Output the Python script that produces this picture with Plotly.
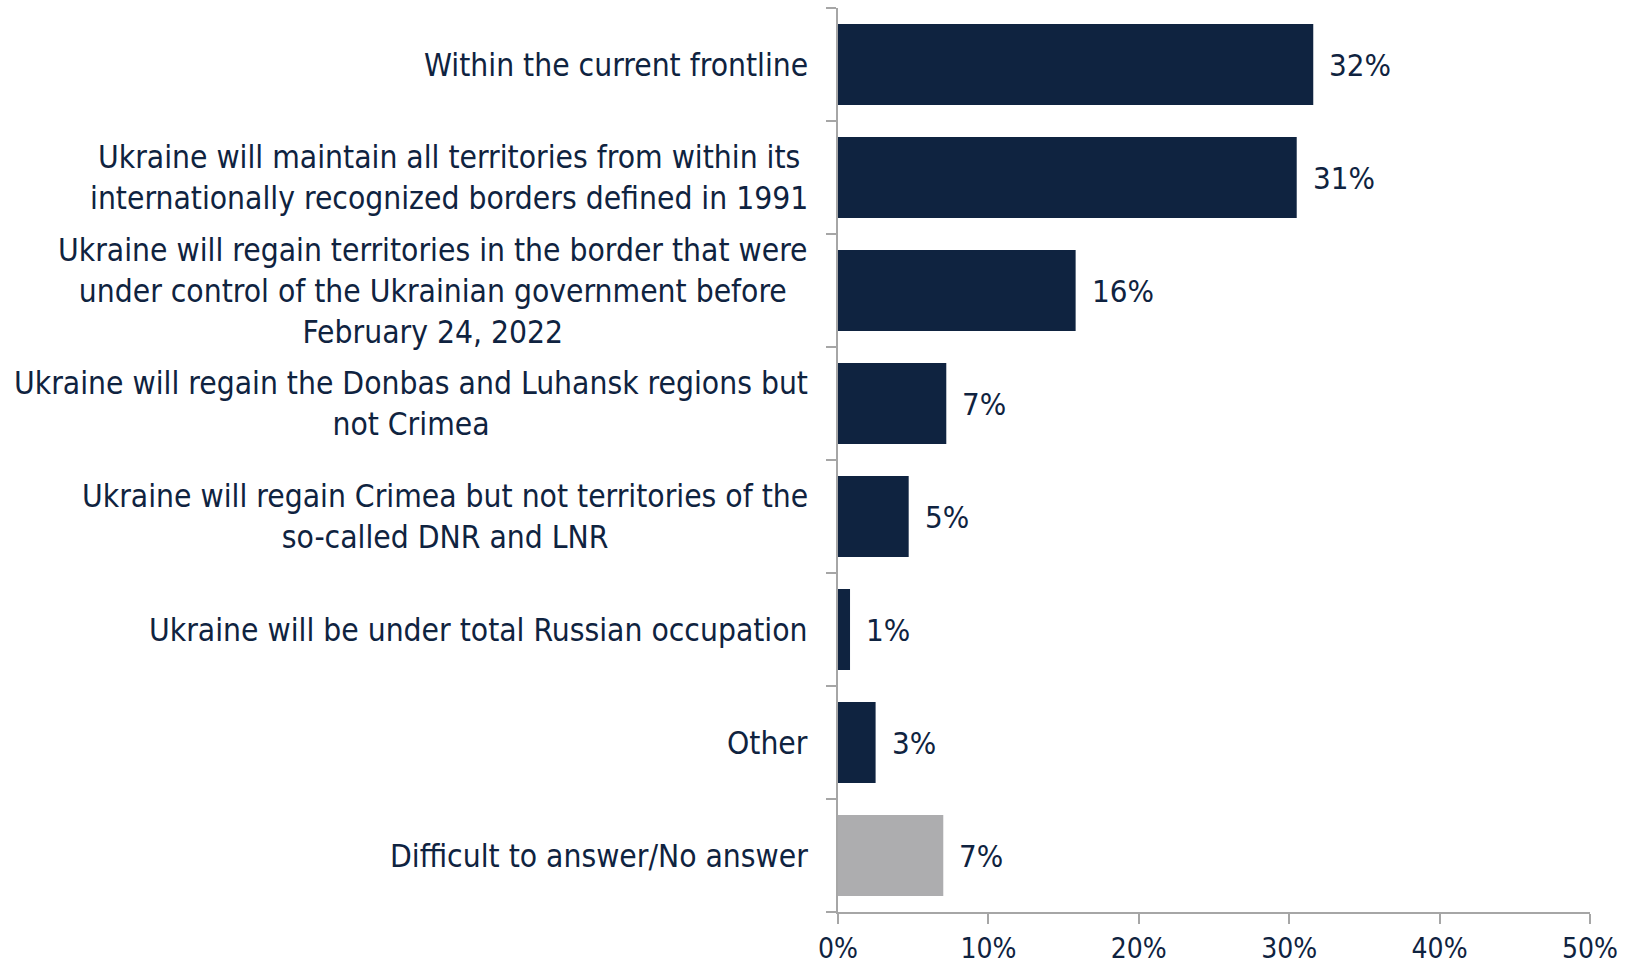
import plotly.graph_objects as go

categories = [
    "Within the current frontline",
    "Ukraine will maintain all territories from within its<br>internationally recognized borders defined in 1991",
    "Ukraine will regain territories in the border that were<br>under control of the Ukrainian government before<br>February 24, 2022",
    "Ukraine will regain the Donbas and Luhansk regions but<br>not Crimea",
    "Ukraine will regain Crimea but not territories of the<br>so-called DNR and LNR",
    "Ukraine will be under total Russian occupation",
    "Other",
    "Difficult to answer/No answer",
]
values = [31.6, 30.5, 15.8, 7.2, 4.7, 0.8, 2.5, 7.0]
value_labels = ["32%", "31%", "16%", "7%", "5%", "1%", "3%", "7%"]
bar_colors = ["#0F2340"] * 7 + ["#ADADAF"]
x_ticks = [0, 10, 20, 30, 40, 50]
x_tick_labels = ["0%", "10%", "20%", "30%", "40%", "50%"]

NAVY = "#0F2340"
FONT = "DejaVu Sans Condensed"

fig = go.Figure(go.Bar(
    x=values, y=list(range(len(categories))), orientation="h",
    marker=dict(color=bar_colors, line=dict(width=0)),
    width=0.716, hoverinfo="skip",
))

annotations = []
for i, (cat, v, lab) in enumerate(zip(categories, values, value_labels)):
    annotations.append(dict(
        x=0, y=i, xref="x", yref="y", text=cat, showarrow=False,
        xanchor="right", yanchor="middle", align="center", xshift=-28,
        font=dict(family=FONT, size=31.5, color=NAVY),
    ))
    annotations.append(dict(
        x=v, y=i, xref="x", yref="y", text=lab, showarrow=False,
        xanchor="left", yanchor="middle", xshift=14,
        font=dict(family=FONT, size=31, color=NAVY),
    ))

fig.update_layout(
    width=1627, height=966,
    margin=dict(l=838, r=37, t=8, b=54, autoexpand=False),
    paper_bgcolor="white", plot_bgcolor="white",
    showlegend=False,
    annotations=annotations,
    xaxis=dict(
        range=[0, 50], tickvals=x_ticks, ticktext=x_tick_labels, automargin=False,
        showgrid=False, zeroline=False, showline=True, linecolor="#A6A6A6", linewidth=2,
        ticks="outside", ticklen=10, tickwidth=1.5, tickcolor="#A6A6A6",
        tickfont=dict(family=FONT, size=28, color=NAVY),
    ),
    yaxis=dict(
        range=[len(categories) - 0.5, -0.5], automargin=False,
        tickvals=[i - 0.5 for i in range(len(categories) + 1)],
        showticklabels=False,
        showgrid=False, zeroline=False, showline=True, linecolor="#A6A6A6", linewidth=2,
        ticks="outside", ticklen=10, tickwidth=1.5, tickcolor="#A6A6A6",
    ),
)

fig.write_html(
    "out.html",
    config={"displayModeBar": False},
    post_script="document.body.style.margin='0';document.body.style.overflow='hidden';",
)
